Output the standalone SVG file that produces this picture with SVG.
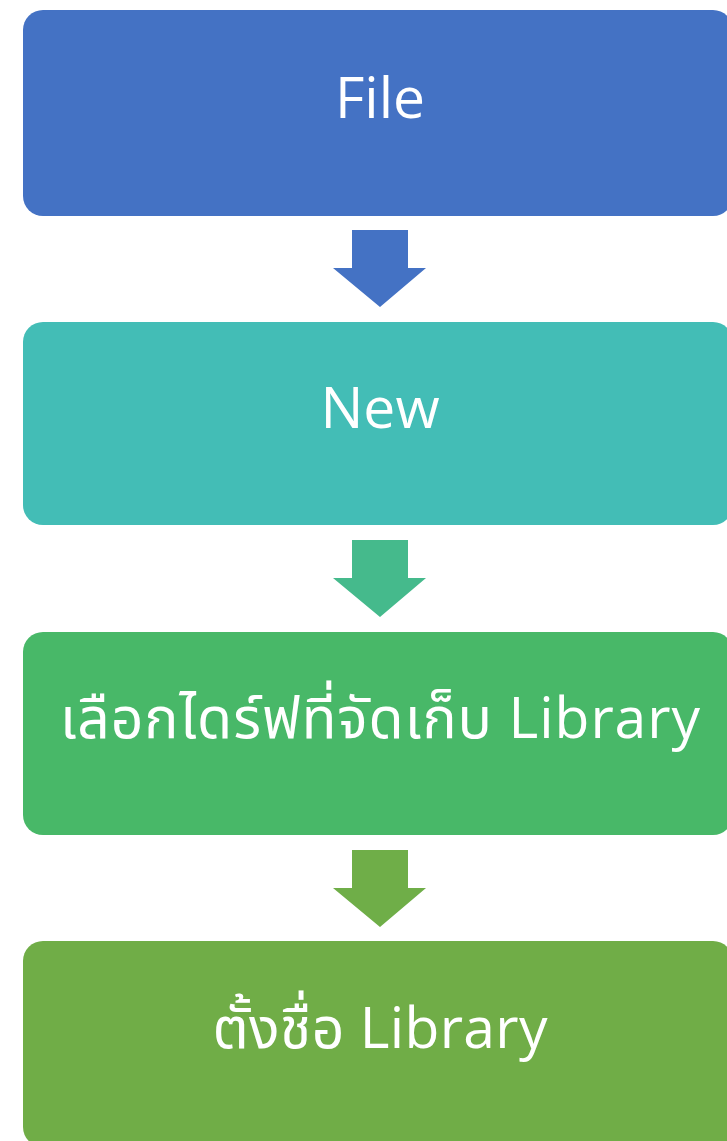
<svg xmlns="http://www.w3.org/2000/svg" width="727" height="1141" viewBox="0 0 727 1141">
<style>
.box{stroke:none}
.t{font-family:"Open Sans","Noto Sans","Noto Sans Thai",Tahoma,sans-serif;font-size:57px;fill:#ffffff;text-anchor:middle}
</style>
<defs>
<path id="arr" d="M352,0 H408 V38 H426 L380,77 L333,38 H352 Z"/>
</defs>
<rect width="727" height="1141" fill="#ffffff"/>
<g id="connectors">
<use href="#arr" y="230" fill="#4472C4"/>
<use href="#arr" y="540" fill="#45BA8C"/>
<use href="#arr" y="850" fill="#6FAE48"/>
</g>
<g id="n1"><rect class="box" x="23" y="10" width="710" height="206" rx="20" fill="#4472C4"/><text class="t" x="380" y="118">File</text></g>
<g id="n2"><rect class="box" x="23" y="322" width="710" height="203" rx="20" fill="#43BDB6"/><text class="t" x="380" y="428">New</text></g>
<g id="n3"><rect class="box" x="23" y="632" width="710" height="203" rx="20" fill="#48B868"/><text class="t" x="380" y="738" textLength="640" lengthAdjust="spacing">เลือกไดร์ฟที่จัดเก็บ Library</text></g>
<g id="n4"><rect class="box" x="23" y="941" width="710" height="206" rx="20" fill="#70AD47"/><text class="t" x="380" y="1048" textLength="335" lengthAdjust="spacing">ตั้งชื่อ Library</text></g>
</svg>
